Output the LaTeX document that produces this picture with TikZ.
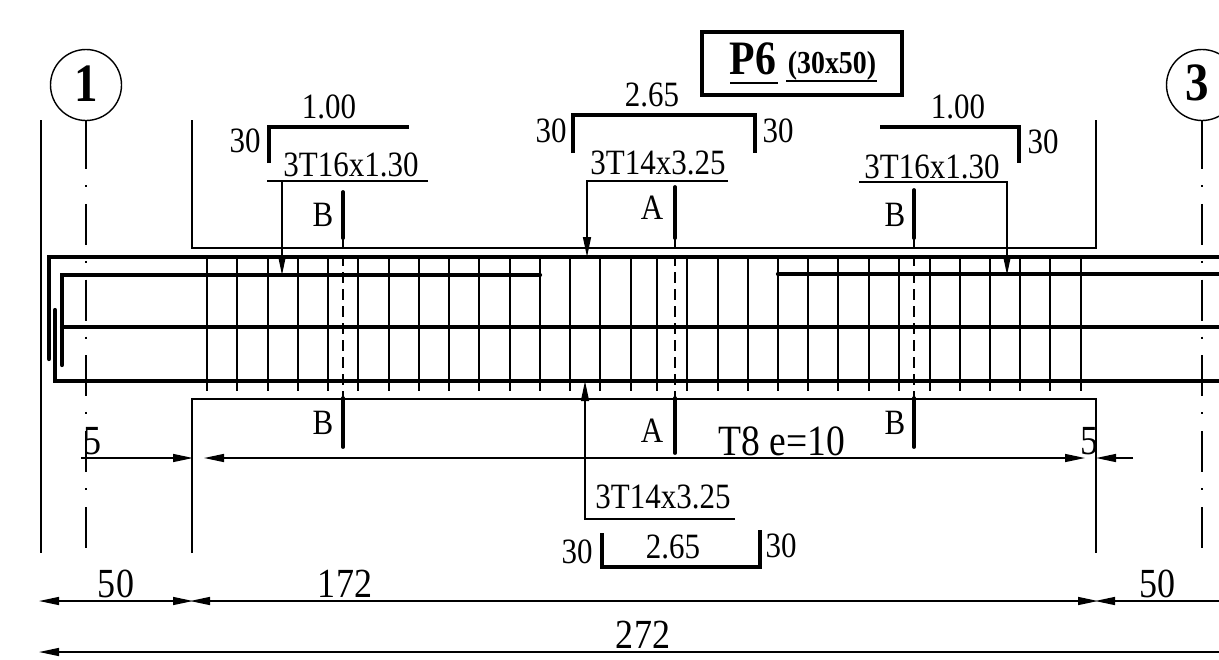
\documentclass[tikz,border=0pt]{standalone}
\usepackage{fontspec}
\setmainfont[FakeStretch=0.87]{Liberation Serif}
\usetikzlibrary{arrows.meta}
\tikzset{
  thinline/.style={line width=0.7pt},
  beamline/.style={line width=2.1pt, line cap=round},
  stirrup/.style={line width=1.25pt},
  rebar/.style={line width=1.6pt},
  secmark/.style={line width=1.9pt, line cap=round},
  secdash/.style={line width=0.7pt, dash pattern=on 5.5pt off 3pt},
  axisline/.style={line width=0.6pt, dash pattern=on 20.5pt off 8pt on 1pt off 8.4pt},
  dimtip/.style={>={Triangle[length=10pt,width=4pt]}},
  lbl/.style={inner sep=0pt, font=\fontsize{17.8}{17.8}\selectfont},
  biglbl/.style={inner sep=0pt, font=\fontsize{20.7}{20.7}\selectfont},
  ringlbl/.style={inner sep=0pt, font=\fontsize{27}{27}\selectfont\bfseries}
}
\begin{document}
\begin{tikzpicture}[x=0.5pt, y=-0.5pt]
  \useasboundingbox (0,0) rectangle (1219,659);
  \clip (0,0) rectangle (1219,659);
  % title
  \draw[line width=1.6pt] (702,32) rectangle (902,95);
  \node[inner sep=0pt, font=\fontsize{24}{24}\selectfont\bfseries] (title) at (753,59) {P6};
  \node[inner sep=0pt, font=\fontsize{16}{16}\selectfont\bfseries] (sect) at (832,66) {(30x50)};
  \draw[thinline] (730,83) -- (778,83) (786,81) -- (877,81);
  % grid
  \node[draw, circle, thinline, minimum size=35.5pt, inner sep=0pt] (ring1) at (86,85) {};
  \node[ringlbl] at (86,84) {1};
  \node[draw, circle, thinline, minimum size=35.5pt, inner sep=0pt] (ring3) at (1202,85) {};
  \node[ringlbl] at (1197,83) {3};
  \draw[thinline] (41,120) -- (41,553);
  \draw[axisline] (86,128) -- (86,553);
  \draw[axisline] (1202,128) -- (1202,553);
  \draw[axisline, dash pattern=] (ring1.south) -- (86,128);
  \draw[axisline, dash pattern=] (ring3.south) -- (1202,128);
  \draw[thinline] (192,120) -- (192,248) -- (1096,248) -- (1096,120)
                  (192,553) -- (192,399) -- (1096,399) -- (1096,553);
  % beam
  \foreach \x in {207,237,268,298,328,358,389,419,449,479,510,540,570,600,631,657,687,718,748,778,808,838,869,899,930,960,990,1020,1050,1081}
    \draw[stirrup] (\x,258) -- (\x,391);
  \draw[beamline] (49,359) -- (49,257) -- (1225,257);
  \draw[beamline] (62,365) -- (62,275) -- (540,275);
  \draw[beamline] (778,274) -- (1225,274);
  \draw[beamline] (62,327) -- (1225,327);
  \draw[beamline] (55,310) -- (55,381) -- (1225,381);
  % sections
  \foreach \x/\ytop/\ylow/\nm/\xl/\ya/\yb in {343/192/447/B/323/215/423, 675/187/453/A/652/208/431, 914/190/447/B/895/215/423} {
    \draw[secmark] (\x,\ytop) -- (\x,238);
    \draw[secmark] (\x,398) -- (\x,\ylow);
    \draw[secdash] (\x,238) -- (\x,398);
    \node[lbl] at (\xl,\ya) {\nm};
    \node[lbl] at (\xl,\yb) {\nm};
  }
  % bars
  \draw[rebar] (269,163) -- (269,127) -- (409,127);
  \node[lbl] at (329,107) {1.00};
  \node[lbl] at (245,141) {30};
  \draw[rebar] (573,153) -- (573,115) -- (755,115) -- (755,153);
  \node[lbl] at (652,95) {2.65};
  \node[lbl] at (551,131) {30};
  \node[lbl] at (778,131) {30};
  \draw[rebar] (880,127) -- (1019,127) -- (1019,163);
  \node[lbl] at (958,107) {1.00};
  \node[lbl] at (1043,142) {30};
  \draw[rebar] (602,533) -- (602,567) -- (760,567) -- (760,530);
  \node[lbl] at (673,547) {2.65};
  \node[lbl] at (577,552) {30};
  \node[lbl] at (781,546) {30};
  % leaders
  \node[lbl] (t1) at (351,165) {3T16x1.30};
  \node[lbl] (t2) at (658,163) {3T14x3.25};
  \node[lbl] (t3) at (932,167) {3T16x1.30};
  \node[lbl] (t4) at (663,497) {3T14x3.25};
  \coordinate (b1) at (282,275);
  \coordinate (b2) at (587,257);
  \coordinate (b3) at (1007,275);
  \coordinate (b4) at (585,381);
  \draw[thinline, dimtip, ->] (428,181) -- (282,181) -- (b1);
  \draw[thinline] (282,181) -- (267,181);
  \draw[thinline, dimtip, ->] (728,181) -- (587,181) -- (b2);
  \draw[thinline, dimtip, ->] (859,182) -- (1007,182) -- (b3);
  \draw[thinline, dimtip, ->] (735,519) -- (585,519) -- (b4);
  % dimensions
  \draw[thinline, dimtip, ->] (81,458) -- (193,458);
  \draw[thinline, dimtip, <->] (204,458) -- (1085,458);
  \draw[thinline, dimtip, ->] (1133,458) -- (1096,458);
  \node[biglbl] at (93,441) {5};
  \node[biglbl] at (1089,441) {5};
  \node[biglbl, font=\fontsize{21.6}{21.6}\selectfont] at (782,441) {T8 e=10};
  \draw[thinline, dimtip, <->] (39,601) -- (193,601);
  \draw[thinline, dimtip, <->] (190,601) -- (1098,601);
  \draw[thinline, dimtip, <-] (1095,601) -- (1225,601);
  \draw[thinline, dimtip, <-] (39,652) -- (1225,652);
  \node[biglbl] at (116,584) {50};
  \node[biglbl] at (345,584) {172};
  \node[biglbl] at (1157,584) {50};
  \node[biglbl] at (643,635) {272};
\end{tikzpicture}
\end{document}
